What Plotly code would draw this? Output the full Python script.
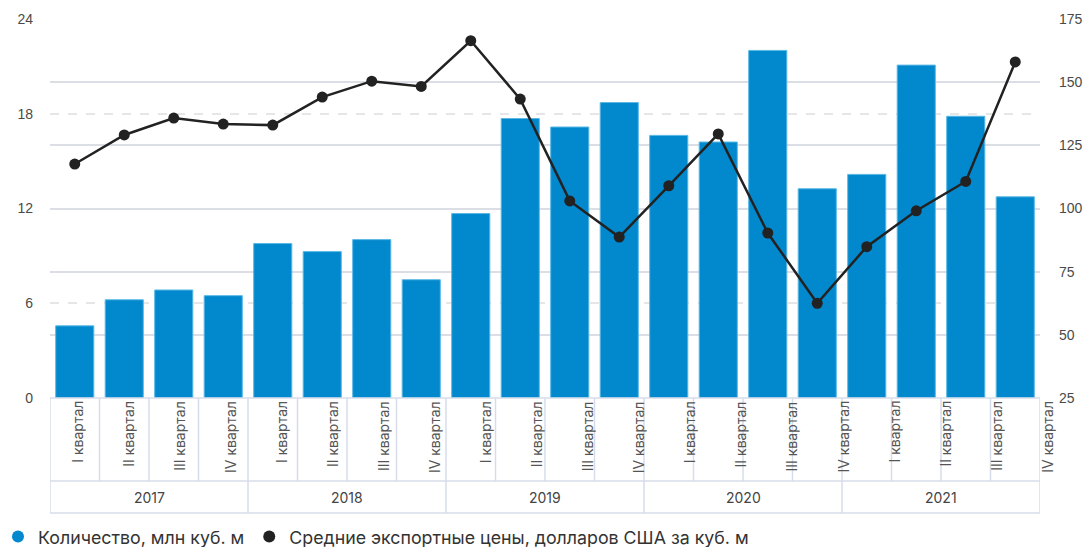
import plotly.graph_objects as go

# Quarterly export volume and average export price
years = ["2017", "2018", "2019", "2020", "2021"]
quarters = ["I квартал", "II квартал", "III квартал", "IV квартал"]

volume = [4.57, 6.22, 6.84, 6.48,
          9.78, 9.27, 10.03, 7.49,
          11.68, 17.70, 17.16, 18.71,
          16.63, 16.21, 22.01, 13.25,
          14.16, 21.08, 17.84, 12.74]

price = [117.6, 129.1, 135.8, 133.4,
         133.0, 144.1, 150.4, 148.3,
         166.4, 143.3, 103.0, 88.7,
         109.0, 129.5, 90.3, 62.5,
         84.9, 99.1, 110.7, 158.0]

left_ticks = [0, 6, 12, 18, 24]
right_ticks = [25, 50, 75, 100, 125, 150, 175]

name_volume = "Количество, млн куб. м"
name_price = "Средние экспортные цены, долларов США за куб. м"

BAR_COLOR = "#0288cc"
LINE_COLOR = "#222222"
TABLE_COLOR = "#d6dcea"
TICK_FONT = dict(family="Liberation Sans, Arial, sans-serif", size=14, color="#4a4a4a")

n = len(volume)
xs = list(range(n))

fig = go.Figure()

fig.add_trace(go.Bar(
    x=xs, y=volume, yaxis="y", name=name_volume, showlegend=False,
    marker=dict(color=BAR_COLOR, line=dict(color="#5ab8e6", width=1)),
))
fig.add_trace(go.Scatter(
    x=xs, y=price, yaxis="y2", name=name_price, showlegend=False,
    mode="lines+markers",
    line=dict(color=LINE_COLOR, width=2.5),
    marker=dict(color=LINE_COLOR, size=11),
))

# Legend entries drawn as round markers
fig.add_trace(go.Scatter(x=[None], y=[None], mode="markers", name=name_volume,
                         marker=dict(color=BAR_COLOR, size=12, symbol="circle")))
fig.add_trace(go.Scatter(x=[None], y=[None], mode="markers", name=name_price,
                         marker=dict(color=LINE_COLOR, size=12, symbol="circle")))

# Two-level category table below the plot
plot_h = 379.0
row1 = -83 / plot_h
row2 = -115 / plot_h
shapes = []
for k in range(n + 1):
    shapes.append(dict(type="line", xref="x", yref="paper", x0=k - 0.5, x1=k - 0.5,
                       y0=0, y1=row1, line=dict(color=TABLE_COLOR, width=1.5)))
for g in range(len(years) + 1):
    xb = g * 4 - 0.5
    shapes.append(dict(type="line", xref="x", yref="paper", x0=xb, x1=xb,
                       y0=row1, y1=row2, line=dict(color=TABLE_COLOR, width=1.5)))
for yy in (0, row1, row2):
    shapes.append(dict(type="line", xref="x", yref="paper", x0=-0.5, x1=n - 0.5,
                       y0=yy, y1=yy, line=dict(color=TABLE_COLOR, width=1.5)))

annotations = []
for k in range(n):
    annotations.append(dict(
        text=quarters[k % 4], x=k, xref="x", y=0, yref="paper",
        xanchor="center", yanchor="top", textangle=-90, showarrow=False,
        xshift=2 + k * 1.55, yshift=-1,
        font=dict(family="Inter, Liberation Sans, sans-serif", size=14, color="#555555"),
    ))
for g, yr in enumerate(years):
    annotations.append(dict(
        text=yr, x=g * 4 + 1.5, xref="x", y=(row1 + row2) / 2, yref="paper",
        xanchor="center", yanchor="middle", showarrow=False,
        font=dict(family="Inter, Liberation Sans, sans-serif", size=14, color="#444444"),
    ))

fig.update_layout(
    width=1085, height=547,
    margin=dict(l=50, r=45, t=19, b=149, autoexpand=False),
    paper_bgcolor="white", plot_bgcolor="white",
    bargap=0.23,
    xaxis=dict(range=[-0.5, n - 0.5], showticklabels=False, showgrid=False,
               zeroline=False, showline=False, ticks=""),
    yaxis=dict(range=[0, 24], tickvals=left_ticks, showgrid=True,
               gridcolor="#e6e6e6", griddash="dash", gridwidth=1.5,
               zeroline=False, showline=False, ticks="",
               tickfont=TICK_FONT, ticklabelstandoff=16),
    yaxis2=dict(range=[25, 175], tickvals=right_ticks, overlaying="y", side="right",
                showgrid=True, gridcolor="#dcdee6", gridwidth=1.5,
                zeroline=False, showline=False, ticks="",
                tickfont=TICK_FONT, ticklabelstandoff=18),
    legend=dict(orientation="h", x=-52 / 990, xanchor="left", y=-139 / plot_h,
                yanchor="middle",
                font=dict(family="Inter, Liberation Sans, sans-serif", size=17.8, color="#333333"),
                bgcolor="rgba(0,0,0,0)", itemclick=False),
    shapes=shapes,
    annotations=annotations,
)

fig.write_html("out.html")
